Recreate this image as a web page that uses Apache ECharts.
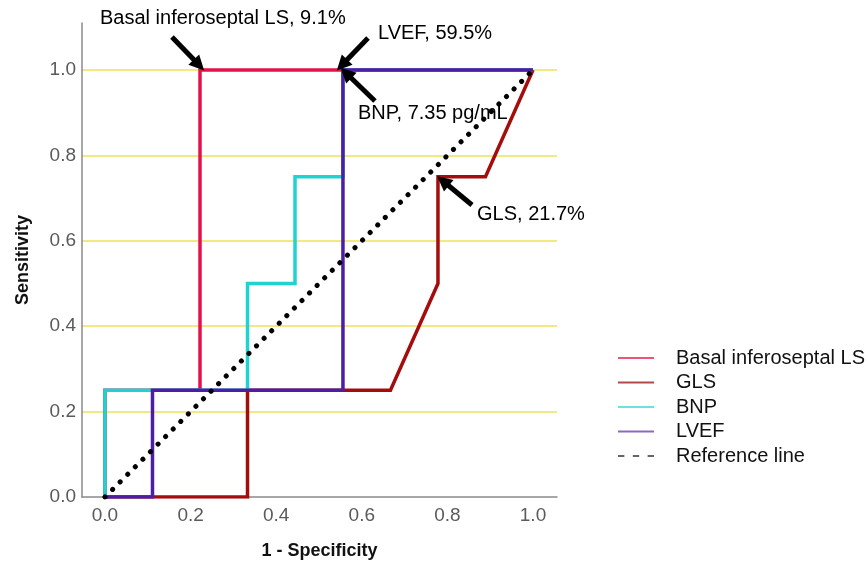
<!DOCTYPE html>
<html>
<head>
<meta charset="utf-8">
<script src="https://cdn.jsdelivr.net/npm/echarts@6/dist/echarts.min.js"></script>
<style>
html,body{margin:0;padding:0;background:#fff;}
#chart{width:866px;height:566px;}
</style>
</head>
<body>
<div id="chart"></div>
<script>
// ---- data ----
const tickValues = [0, 0.2, 0.4, 0.6, 0.8, 1.0];

const basalFPR = [0, 0, 0.222, 0.222, 1];
const basalTPR = [0, 0.25, 0.25, 1, 1];

const glsFPR = [0, 0.333, 0.333, 0.667, 0.778, 0.778, 0.889, 1];
const glsTPR = [0, 0, 0.25, 0.25, 0.5, 0.75, 0.75, 1];

const bnpFPR = [0, 0, 0.333, 0.333, 0.444, 0.444, 0.556, 0.556, 1];
const bnpTPR = [0, 0.25, 0.25, 0.5, 0.5, 0.75, 0.75, 1, 1];

const lvefFPR = [0, 0.111, 0.111, 0.556, 0.556, 1];
const lvefTPR = [0, 0, 0.25, 0.25, 1, 1];

const refFPR = [0, 1];
const refTPR = [0, 1];

// annotation texts and their anchor (left-middle) in data units
const annoTexts = ['Basal inferoseptal LS, 9.1%', 'LVEF, 59.5%', 'BNP, 7.35 pg/mL', 'GLS, 21.7%'];
const annoX = [-0.0117, 0.6379, 0.5911, 0.8692];
const annoY = [1.1218, 1.0866, 0.8993, 0.6628];

// arrows: tail -> tip, data units
const arrowTailX = [0.1565, 0.6145, 0.6308, 0.8575];
const arrowTailY = [1.0773, 1.0749, 0.9274, 0.6838];
const arrowTipX = [0.2196, 0.5537, 0.5631, 0.7897];
const arrowTipY = [1.0117, 1.0117, 0.9930, 0.7400];

// ---- build ----
const zip = (xs, ys) => xs.map((x, i) => [x, ys[i]]);
const FONT = '"Liberation Sans", Arial, sans-serif';

const colors = {
  'Basal inferoseptal LS': '#e3124b',
  'GLS': '#a50d0d',
  'BNP': '#1fd3d0',
  'LVEF': '#4b1ea3',
  'Reference line': '#000000'
};

function rocSeries(name, xs, ys, z) {
  return {
    name: name,
    type: 'line',
    data: zip(xs, ys),
    showSymbol: false,
    symbol: 'none',
    z: z,
    lineStyle: { color: colors[name], width: 3.5, join: 'miter' },
    itemStyle: { color: colors[name] }
  };
}

const chart = echarts.init(document.getElementById('chart'), null, { renderer: 'canvas' });

const option = {
  backgroundColor: '#ffffff',
  animation: false,
  textStyle: { fontFamily: FONT },
  grid: { left: 82, right: 309, top: 23, bottom: 69, containLabel: false },
  xAxis: {
    type: 'value',
    min: -0.0537,
    max: 1.0561,
    name: '1 - Specificity',
    nameLocation: 'middle',
    nameGap: 45,
    nameTextStyle: { fontFamily: FONT, fontSize: 18, fontWeight: 'bold', color: '#111' },
    axisLine: { show: true, onZero: false, lineStyle: { color: '#8a8a8a', width: 1.5 } },
    axisTick: { show: false },
    splitLine: { show: false },
    axisLabel: {
      customValues: tickValues,
      formatter: v => v.toFixed(1),
      fontFamily: FONT, fontSize: 19, color: '#5a5a5a', margin: 9
    }
  },
  yAxis: {
    type: 'value',
    min: 0,
    max: 1.1101,
    interval: 0.2,
    name: 'Sensitivity',
    nameLocation: 'middle',
    nameGap: 50,
    nameRotate: 90,
    nameTextStyle: { fontFamily: FONT, fontSize: 18, fontWeight: 'bold', color: '#111' },
    axisLine: { show: true, onZero: false, lineStyle: { color: '#8a8a8a', width: 1.5 } },
    axisTick: { show: false },
    splitLine: {
      show: true,
      showMinLine: false,
      showMaxLine: false,
      lineStyle: { color: '#ede35a', width: 1.5, type: 'solid' }
    },
    axisLabel: {
      customValues: tickValues,
      formatter: v => v.toFixed(1),
      fontFamily: FONT, fontSize: 19, color: '#5a5a5a', margin: 6
    }
  },
  legend: {
    orient: 'vertical',
    left: 613,
    top: 343,
    itemWidth: 36,
    itemHeight: 12,
    itemGap: 4.5,
    icon: 'path://M0,5 L36,5 L36,7 L0,7 Z',
    textStyle: { fontFamily: FONT, fontSize: 20, color: '#111', padding: [0, 0, 0, 17], lineHeight: 20 },
    data: [
      { name: 'Basal inferoseptal LS', itemStyle: { color: '#ec5577' } },
      { name: 'GLS', itemStyle: { color: '#b44848' } },
      { name: 'BNP', itemStyle: { color: '#6ee0dd' } },
      { name: 'LVEF', itemStyle: { color: '#8a6ac0' } },
      { name: 'Reference line', icon: 'path://M0,5 L6,5 L6,7 L0,7 Z M14,5 L20,5 L20,7 L14,7 Z M28,5 L34,5 L34,7 L28,7 Z', itemStyle: { color: '#666' } }
    ]
  },
  series: [
    rocSeries('Basal inferoseptal LS', basalFPR, basalTPR, 2),
    rocSeries('GLS', glsFPR, glsTPR, 3),
    rocSeries('BNP', bnpFPR, bnpTPR, 4),
    rocSeries('LVEF', lvefFPR, lvefTPR, 5),
    {
      name: 'Reference line',
      type: 'line',
      data: zip(refFPR, refTPR),
      showSymbol: false,
      symbol: 'none',
      z: 6,
      lineStyle: { color: '#000', width: 5, type: [0.1, 10.6], cap: 'round' },
      itemStyle: { color: '#000' }
    },
    {
      name: 'annotations',
      type: 'scatter',
      clip: false,
      silent: true,
      symbolSize: 0,
      z: 1,
      itemStyle: { opacity: 1 },
      data: annoTexts.map((t, i) => ({ value: [annoX[i], annoY[i]], label: { formatter: t } })),
      label: {
        show: true,
        position: [0, 0],
        align: 'left',
        verticalAlign: 'middle',
        fontFamily: FONT,
        fontSize: 20,
        color: '#000'
      }
    },
    {
      name: 'arrows',
      type: 'lines',
      coordinateSystem: 'cartesian2d',
      silent: true,
      z: 7,
      symbol: ['none', 'triangle'],
      symbolSize: 15,
      lineStyle: { color: '#000', width: 5, opacity: 1, curveness: 0 },
      data: arrowTailX.map((x, i) => ({ coords: [[x, arrowTailY[i]], [arrowTipX[i], arrowTipY[i]]] }))
    }
  ]
};

chart.setOption(option);
</script>
</body>
</html>
